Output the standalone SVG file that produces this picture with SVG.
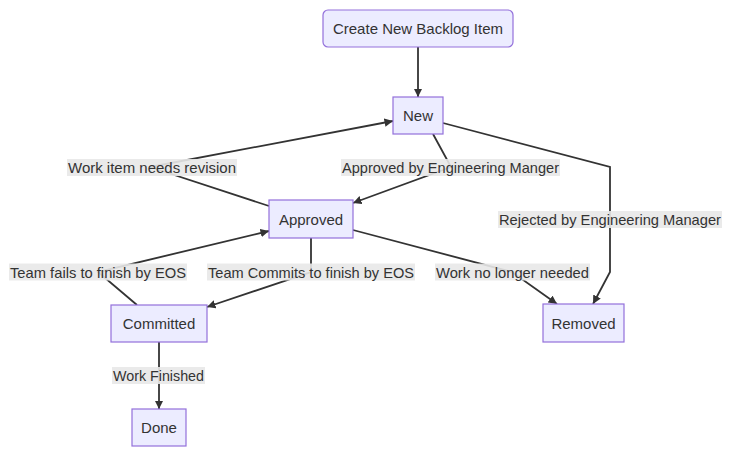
<svg xmlns="http://www.w3.org/2000/svg" width="735" height="457" viewBox="0 0 735 457">
<defs>
<marker id="arrow" viewBox="0 0 10 10" refX="10" refY="5" markerUnits="userSpaceOnUse" markerWidth="8.5" markerHeight="8.5" orient="auto">
<path d="M0,0 L10,5 L0,10 z" fill="#333333"/>
</marker>
<style>
.node rect{fill:#ECECFF;stroke:#9370DB;stroke-width:1.2px}
.node text{font-family:"Liberation Sans",Arial,sans-serif;font-size:15px;fill:#333333;text-anchor:middle;dominant-baseline:central}
.edge{fill:none;stroke:#333333;stroke-width:1.8px;marker-end:url(#arrow)}
.lbl rect{fill:#e8e8e8;opacity:0.9}
.lbl text{font-family:"Liberation Sans",Arial,sans-serif;font-size:15px;fill:#333333;text-anchor:middle;dominant-baseline:central}
</style>
</defs>
<rect width="735" height="457" fill="#ffffff"/>
<g id="connectors">
<polyline class="edge" points="418,47 418,97"/>
<polyline class="edge" points="433,134 451,167 353,203"/>
<polyline class="edge" points="269,206 150,167 393,121"/>
<polyline class="edge" points="443,123 610,167 610,272 593,304"/>
<polyline class="edge" points="353,230 512,272 557,304"/>
<polyline class="edge" points="311,238 311,272 207,307"/>
<polyline class="edge" points="137,305 98,272 269,231"/>
<polyline class="edge" points="159,342 159,409"/>
</g>
<g id="labels">
<g class="lbl"><rect x="67" y="159" width="170" height="17"/><text x="152" y="167.5" textLength="168" lengthAdjust="spacingAndGlyphs">Work item needs revision</text></g>
<g class="lbl"><rect x="341" y="159" width="219" height="17"/><text x="450.5" y="167.5" textLength="217" lengthAdjust="spacingAndGlyphs">Approved by Engineering Manger</text></g>
<g class="lbl"><rect x="498" y="211" width="224" height="17"/><text x="610" y="219.5" textLength="222" lengthAdjust="spacingAndGlyphs">Rejected by Engineering Manager</text></g>
<g class="lbl"><rect x="435" y="263.5" width="155" height="17"/><text x="512.5" y="272" textLength="153" lengthAdjust="spacingAndGlyphs">Work no longer needed</text></g>
<g class="lbl"><rect x="207" y="263.5" width="208" height="17"/><text x="311" y="272" textLength="206" lengthAdjust="spacingAndGlyphs">Team Commits to finish by EOS</text></g>
<g class="lbl"><rect x="9" y="263.5" width="178" height="17"/><text x="98" y="272" textLength="176" lengthAdjust="spacingAndGlyphs">Team fails to finish by EOS</text></g>
<g class="lbl"><rect x="112" y="367" width="93" height="17"/><text x="158.5" y="375.5" textLength="91" lengthAdjust="spacingAndGlyphs">Work Finished</text></g>
</g>
<g id="node-create" class="node"><rect x="323" y="10" width="190" height="37" rx="5" ry="5"/><text x="418" y="28.5">Create New Backlog Item</text></g>
<g id="node-new" class="node"><rect x="393" y="97" width="50" height="37"/><text x="418" y="115.5">New</text></g>
<g id="node-approved" class="node"><rect x="269" y="200" width="84" height="38"/><text x="311" y="219">Approved</text></g>
<g id="node-removed" class="node"><rect x="543" y="304" width="81" height="38"/><text x="583.5" y="323">Removed</text></g>
<g id="node-committed" class="node"><rect x="111" y="305" width="96" height="37"/><text x="159" y="323.5">Committed</text></g>
<g id="node-done" class="node"><rect x="132" y="409" width="54" height="37"/><text x="159" y="427.5">Done</text></g>
</svg>
